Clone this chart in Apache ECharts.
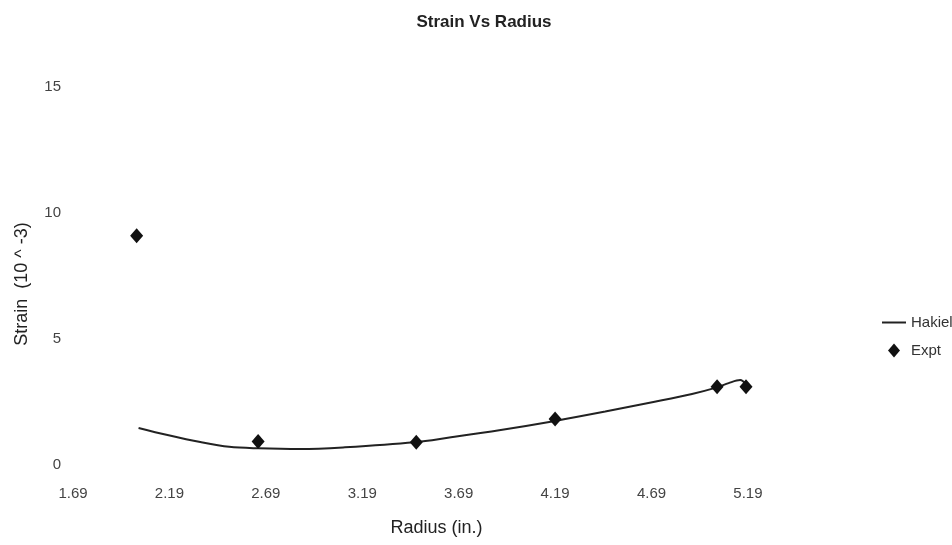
<!DOCTYPE html>
<html>
<head>
<meta charset="utf-8">
<script src="https://cdn.jsdelivr.net/npm/echarts@6/dist/echarts.min.js"></script>
<style>
  html, body { margin: 0; padding: 0; background: #fff; }
  #chart { width: 952px; height: 545px; }
</style>
</head>
<body>
<div id="chart"></div>
<script>
// Radius (in.) tick labels and strain ticks
const xTicks = ['1.69', '2.19', '2.69', '3.19', '3.69', '4.19', '4.69', '5.19'];
const yTicks = [0, 5, 10, 15];

// Hakiel prediction: radius / strain (10^-3)
const hakielRadius = [2.03, 2.18, 2.35, 2.50, 2.65, 2.87, 3.10, 3.46, 3.65, 3.90, 4.19, 4.45, 4.70, 4.90, 5.03, 5.09, 5.15, 5.18];
const hakielStrain = [1.47, 1.19, 0.91, 0.72, 0.66, 0.63, 0.70, 0.90, 1.10, 1.38, 1.75, 2.12, 2.50, 2.82, 3.08, 3.25, 3.37, 3.20];

// Experimental measurements
const exptRadius = [2.02, 2.65, 3.47, 4.19, 5.03, 5.18];
const exptStrain = [9.1, 0.93, 0.9, 1.83, 3.11, 3.11];

const pairs = (xs, ys) => xs.map((x, i) => [x, ys[i]]);

const chart = echarts.init(document.getElementById('chart'), null, { renderer: 'canvas' });
const font = '"Liberation Sans", Arial, sans-serif';

chart.setOption({
  backgroundColor: '#fff',
  animation: false,
  textStyle: { fontFamily: font },
  title: {
    text: 'Strain Vs Radius',
    left: 479, top: 9, textAlign: 'center',
    textStyle: { fontFamily: font, fontSize: 17, fontWeight: 'bold', color: '#222' }
  },
  grid: { left: 73, right: 152, top: 87, bottom: 80, containLabel: false },
  xAxis: {
    type: 'value',
    min: 1.69, max: 5.46, interval: 0.5,
    name: 'Radius (in.)', nameLocation: 'middle', nameGap: 54,
    nameTextStyle: { fontFamily: font, fontSize: 18, color: '#222' },
    axisLine: { show: false }, axisTick: { show: false }, splitLine: { show: false },
    axisLabel: {
      margin: 21, fontSize: 15, color: '#444', fontFamily: font,
      formatter: v => {
        const s = v.toFixed(2);
        return xTicks.indexOf(s) >= 0 ? s : '';
      }
    }
  },
  yAxis: {
    type: 'value',
    min: yTicks[0], max: yTicks[yTicks.length - 1], interval: 5,
    name: 'Strain  (10 ^ -3)', nameLocation: 'middle', nameGap: 42,
    nameTextStyle: { fontFamily: font, fontSize: 18, color: '#222', padding: [0, 16, 0, 0] },
    axisLine: { show: false }, axisTick: { show: false }, splitLine: { show: false },
    axisLabel: { margin: 12, fontSize: 15, color: '#444', fontFamily: font }
  },
  legend: {
    orient: 'vertical', left: 877, top: 310, itemGap: 13,
    itemWidth: 24, itemHeight: 14,
    textStyle: { fontFamily: font, fontSize: 15, color: '#333' },
    data: [
      { name: 'Hakiel', icon: 'path://M0,0 L24,0 L24,2 L0,2 Z', itemStyle: { color: '#222' } },
      { name: 'Expt', icon: 'path://M6,0 L12,7 L6,14 L0,7 Z', itemStyle: { color: '#111' } }
    ]
  },
  series: [
    {
      name: 'Hakiel', type: 'line', smooth: 0.35,
      data: pairs(hakielRadius, hakielStrain),
      symbol: 'none',
      lineStyle: { color: '#222', width: 2 },
      itemStyle: { color: '#222' },
      z: 2
    },
    {
      name: 'Expt', type: 'scatter',
      data: pairs(exptRadius, exptStrain),
      symbol: 'diamond', symbolSize: [13, 15],
      itemStyle: { color: '#111', opacity: 1 },
      z: 3
    }
  ]
});
</script>
</body>
</html>
